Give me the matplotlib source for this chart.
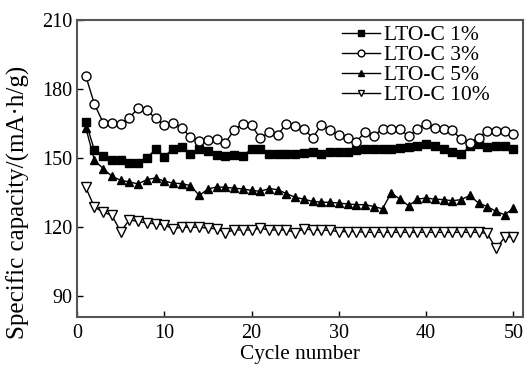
import matplotlib
matplotlib.use("Agg")
import matplotlib.pyplot as plt
import numpy as np

plt.rcParams['font.family'] = ['Liberation Serif', 'DejaVu Serif']

cycles = list(range(1, 51))
lto_c1 = [165.7, 153.4, 150.9, 149.4, 149.0, 148.0, 148.0, 150.2, 153.8, 150.6,
          154.2, 154.8, 152.0, 153.8, 153.0, 151.3, 150.9, 151.2, 150.9, 154.1,
          154.1, 151.9, 152.0, 151.9, 151.9, 152.3, 152.8, 152.0, 152.8, 152.8,
          152.8, 153.4, 154.2, 154.2, 154.2, 154.2, 154.5, 155.0, 155.2, 156.0,
          155.5, 153.8, 152.8, 151.6, 155.2, 156.3, 154.8, 155.2, 155.2, 154.1]
lto_c3 = [185.8, 173.4, 165.4, 165.1, 165.0, 167.6, 171.7, 170.8, 167.3, 164.3,
          165.4, 163.0, 159.2, 157.4, 157.9, 158.5, 156.7, 162.2, 165.0, 164.3,
          158.6, 161.4, 160.2, 165.0, 164.0, 162.5, 158.9, 164.4, 162.2, 160.0,
          158.6, 157.1, 161.4, 159.6, 162.8, 162.8, 162.5, 159.6, 162.5, 165.0,
          163.3, 162.8, 162.1, 158.2, 156.7, 158.9, 161.8, 161.8, 161.8, 160.6]
lto_c5 = [163.3, 149.0, 145.5, 142.1, 140.4, 139.7, 138.8, 140.7, 141.4, 140.0,
          139.2, 138.9, 138.1, 133.8, 136.6, 137.5, 137.3, 137.0, 136.6, 136.0,
          135.6, 136.8, 136.3, 134.6, 133.0, 132.2, 131.2, 130.9, 130.8, 130.5,
          130.1, 129.8, 129.8, 129.0, 128.0, 134.9, 132.2, 129.3, 132.2, 132.7,
          132.2, 132.0, 131.5, 132.0, 133.8, 130.5, 129.0, 126.9, 125.4, 128.3]
lto_c10 = [137.3, 128.7, 126.6, 125.1, 118.1, 123.2, 122.5, 121.8, 121.5, 121.0,
           119.3, 120.0, 120.0, 120.0, 119.6, 119.3, 117.7, 118.8, 118.8, 118.8,
           119.6, 118.8, 118.8, 118.8, 117.7, 119.3, 118.8, 118.8, 118.6, 118.1,
           118.1, 118.1, 117.8, 117.8, 117.8, 117.8, 117.8, 117.8, 117.8, 117.8,
           117.8, 117.8, 117.8, 117.8, 117.8, 117.8, 117.3, 110.8, 115.6, 115.9]
labels = ['LTO-C 1%', 'LTO-C 3%', 'LTO-C 5%', 'LTO-C 10%']
xticks = [0, 10, 20, 30, 40, 50]
yticks = [90, 120, 150, 180, 210]

fig = plt.figure(figsize=(5.29, 3.65), dpi=100)
ax = fig.add_axes([0.1456, 0.1315, 0.8431, 0.8135])

ax.plot(cycles, lto_c1, color='black', lw=1, marker='s', ms=5.5, mfc='black', mec='black', label=labels[0])
ax.plot(cycles, lto_c3, color='black', lw=1, marker='o', ms=6.5, mfc='white', mec='black', mew=1, label=labels[1])
ax.plot(cycles, lto_c5, color='black', lw=1, marker='^', ms=6, mfc='black', mec='black', label=labels[2])
ax.plot(cycles, lto_c10, color='black', lw=1, marker='v', ms=6.5, mfc='white', mec='black', mew=1, label=labels[3])

ax.set_xlim(0, 51.1)
ax.set_ylim(81, 210)
ax.set_xticks(xticks)
ax.set_yticks(yticks)
ax.tick_params(direction='in', length=4, width=1, labelsize=14.5, colors='black')
ax.tick_params(axis='x', pad=5)
for s in ax.spines.values():
    s.set_color('#555555')
    s.set_linewidth(1.5)

ax.set_xlabel('Cycle number', fontsize=15.3)
ax.xaxis.set_label_coords(0.5, -0.095)
ax.set_ylabel('Specific capacity/(mA·h/g)', fontsize=18)
ax.yaxis.set_label_coords(-0.105, 0.385)

leg = ax.legend(loc='upper right', frameon=False, fontsize=15.5, handlelength=1.75,
                handletextpad=0.2, labelspacing=0.0, borderaxespad=0.0, borderpad=0.1,
                bbox_to_anchor=(0.93, 0.99), markerscale=0.75)

fig.savefig('out.png', dpi=100)
